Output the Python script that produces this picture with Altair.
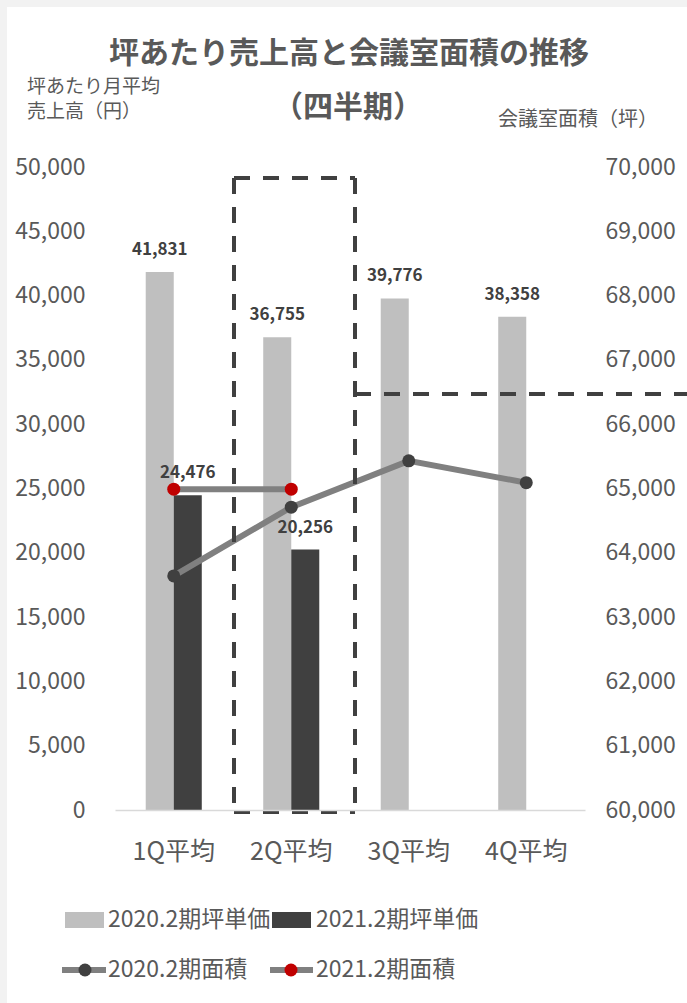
import altair as alt
import pandas as pd

quarters = ["1Q平均", "2Q平均", "3Q平均", "4Q平均"]
series_bar = ["2020.2期坪単価", "2021.2期坪単価"]
series_line = ["2020.2期面積", "2021.2期面積"]
bar_2020 = [41831, 36755, 39776, 38358]
bar_2021 = [24476, 20256]
area_2020 = [63640, 64710, 65430, 65090]
area_2021 = [64990, 64990]

bar_rows = [{"quarter": q, "series": series_bar[0], "value": v} for q, v in zip(quarters, bar_2020)]
bar_rows += [{"quarter": q, "series": series_bar[1], "value": v} for q, v in zip(quarters, bar_2021)]
bar_df = pd.DataFrame(bar_rows)

line_rows = [{"quarter": q, "lseries": series_line[0], "area": v} for q, v in zip(quarters, area_2020)]
line_rows += [{"quarter": q, "lseries": series_line[1], "area": v} for q, v in zip(quarters, area_2021)]
line_df = pd.DataFrame(line_rows)

FONT = "Noto Sans CJK JP"
W, H = 470, 643
TXT = "#595959"
DARK = "#404040"
LIGHT = "#bfbfbf"
LINE = "#808080"
RED = "#c00000"

xenc = alt.X(
    "quarter:N",
    sort=quarters,
    scale=alt.Scale(paddingInner=0.523, paddingOuter=0.2615),
    axis=alt.Axis(title=None, labelAngle=0, labelFontSize=25, labelColor=TXT,
                  ticks=False, domainColor="#d9d9d9", domainWidth=1.5, labelPadding=29,
                  labelFont=FONT, zindex=1),
)

base_bar = alt.Chart(bar_df)
yleft = alt.Y(
    "value:Q",
    scale=alt.Scale(domain=[0, 50000], nice=False),
    axis=alt.Axis(orient="left", title=None, values=list(range(0, 50001, 5000)),
                  labelExpr="format(datum.value, ',')",
                  domain=False, ticks=False, grid=False, labelFontSize=23, labelColor=TXT,
                  labelPadding=30, labelFont=FONT, zindex=1),
)
bars = base_bar.mark_bar().encode(
    x=xenc,
    xOffset=alt.XOffset("series:N", sort=series_bar,
                        scale=alt.Scale(paddingInner=0, paddingOuter=0)),
    y=yleft,
    color=alt.Color("series:N", sort=series_bar,
                    scale=alt.Scale(domain=series_bar, range=[LIGHT, DARK]), legend=None),
)
labels = base_bar.mark_text(font=FONT, fontSize=17, fontWeight="bold", color=DARK,
                            baseline="alphabetic", dy=-17).encode(
    x=xenc,
    xOffset=alt.XOffset("series:N", sort=series_bar,
                        scale=alt.Scale(paddingInner=0, paddingOuter=0)),
    y=alt.Y("value:Q"),
    text=alt.Text("value:Q", format=","),
)
bar_layer = alt.layer(bars, labels)

base_line = alt.Chart(line_df)
yright = alt.Y(
    "area:Q",
    scale=alt.Scale(domain=[60000, 70000], nice=False),
    axis=alt.Axis(orient="right", title=None, values=list(range(60000, 70001, 1000)),
                  labelExpr="format(datum.value, ',')",
                  domain=False, ticks=False, grid=False, labelFontSize=23, labelColor=TXT,
                  labelPadding=20, labelFont=FONT, zindex=1),
)
lines = base_line.mark_line(color=LINE, strokeWidth=6).encode(
    x=xenc, y=yright, detail="lseries:N")
points = base_line.mark_point(filled=True, opacity=1, size=169, shape="circle").encode(
    x=xenc, y=alt.Y("area:Q"),
    fill=alt.Fill("lseries:N", scale=alt.Scale(domain=series_line, range=[DARK, RED]), legend=None),
)
line_layer = alt.layer(lines, points)

one = pd.DataFrame({"k": [0]})


def txt(text, x, y, size, align="left", weight="normal", color=TXT, baseline="middle"):
    return alt.Chart(one).mark_text(text=text, font=FONT, fontSize=size, align=align,
                                    fontWeight=weight, color=color, baseline=baseline).encode(
        x=alt.value(x), y=alt.value(y))


def rule(x, x2, y, y2, color=DARK, width=4, dash=None):
    kw = dict(color=color, strokeWidth=width)
    if dash:
        kw["strokeDash"] = dash
    return alt.Chart(one).mark_rule(**kw).encode(
        x=alt.value(x), x2=alt.value(x2), y=alt.value(y), y2=alt.value(y2))


def rect(x, x2, y, y2, color):
    return alt.Chart(one).mark_rect(color=color).encode(
        x=alt.value(x), x2=alt.value(x2), y=alt.value(y), y2=alt.value(y2))


background = rect(-108, 572, -160, 836, "white")

dash = [16, 13]
annotations = [
    rule(119, 240, 11, 11, dash=dash),
    rule(119, 240, 645, 645, dash=dash),
    rule(119, 119, 11, 645, dash=dash),
    rule(240, 240, 11, 645, dash=dash),
    rule(240, 572, 227, 227, dash=dash),
]

titles = [
    txt("坪あたり売上高と会議室面積の推移", 234, -113, 30, align="center", weight="bold"),
    txt("（四半期）", 233, -59, 30, align="center", weight="bold"),
    txt("坪あたり月平均", -88, -80, 19),
    txt("売上高（円）", -88, -55, 19),
    txt("会議室面積（坪）", 543, -47, 20, align="right"),
]

legend = [
    rect(-50, -11, 745, 761, LIGHT),
    txt(series_bar[0], -7, 753, 23),
    rect(157, 196, 745, 761, DARK),
    txt(series_bar[1], 201, 753, 23),
    rule(-53, -9, 803, 803, color=LINE, width=6),
    alt.Chart(one).mark_point(filled=True, opacity=1, size=169, shape="circle", color=DARK).encode(
        x=alt.value(-30), y=alt.value(803)),
    txt(series_line[0], -7, 803, 23),
    rule(155, 198, 803, 803, color=LINE, width=6),
    alt.Chart(one).mark_point(filled=True, opacity=1, size=169, shape="circle", color=RED).encode(
        x=alt.value(176), y=alt.value(803)),
    txt(series_line[1], 201, 803, 23),
]

chart = alt.layer(background, bar_layer, line_layer, *annotations, *titles, *legend).resolve_scale(
    y="independent", color="independent", fill="independent"
).properties(
    width=W, height=H,
    autosize=alt.AutoSizeParams(type="none"),
    padding={"left": 115, "top": 167, "right": 102, "bottom": 193},
    background="#f2f2f2",
).configure_view(stroke=None).configure_text(font=FONT)

chart.save("out.html", embed_options={"renderer": "svg", "actions": False})
